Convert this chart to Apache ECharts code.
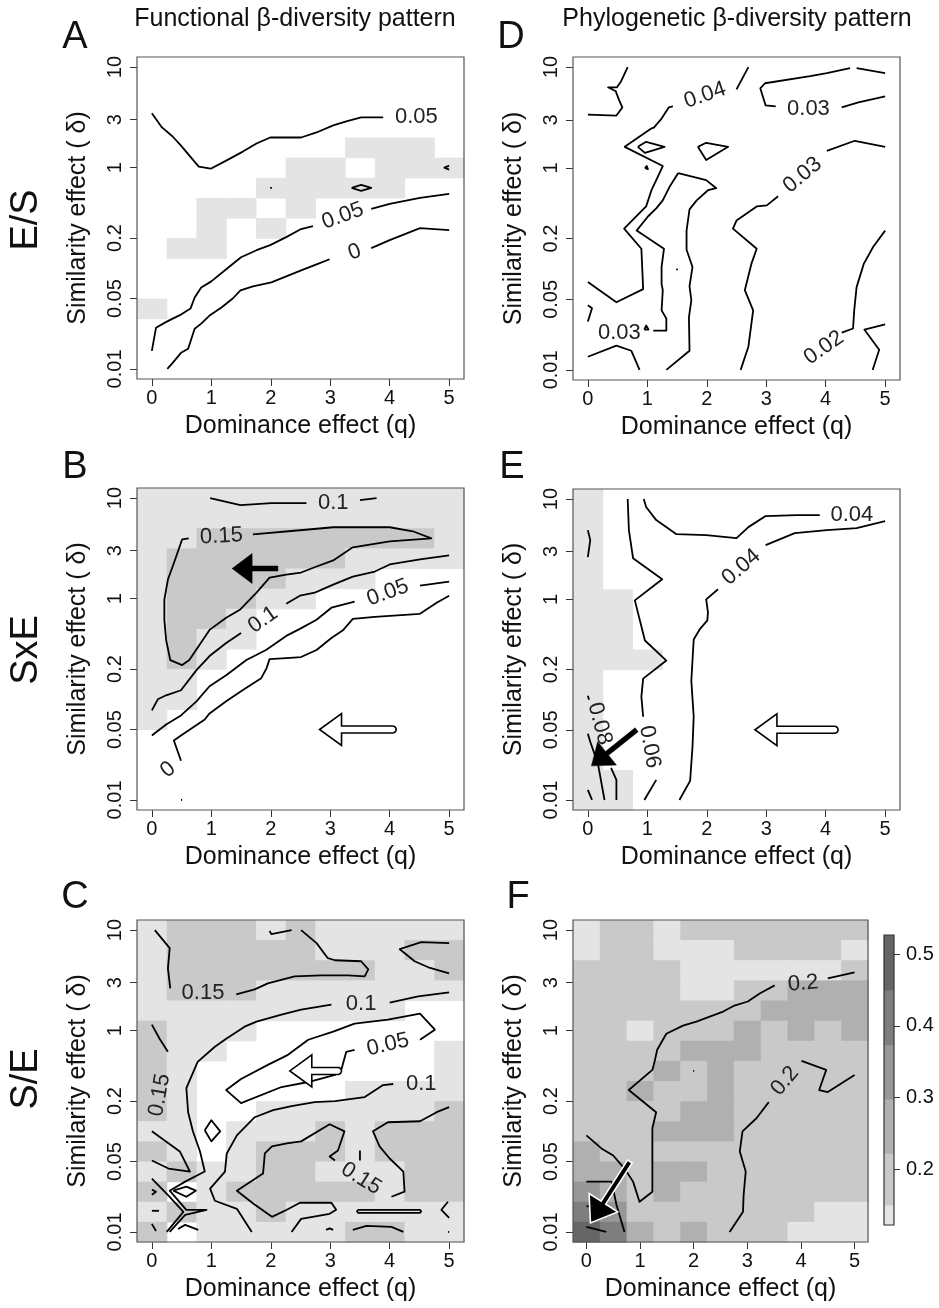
<!DOCTYPE html>
<html><head><meta charset="utf-8">
<script src="https://cdn.jsdelivr.net/npm/echarts@6/dist/echarts.min.js"></script>
<style>html,body{margin:0;padding:0;background:#fff}#c{width:939px;height:1308px}</style>
</head><body><div id="c"></div>
<script>
// ---------- axis ticks ----------
const qTicks = [0, 1, 2, 3, 4, 5];
const deltaTicks = [0.01, 0.05, 0.2, 1, 3, 10];
const deltaTickLabels = ['0.01', '0.05', '0.2', '1', '3', '10'];
const cbTicks = [0.2, 0.3, 0.4, 0.5];
const cbTickLabels = ['0.2', '0.3', '0.4', '0.5'];
// colour bar breaks (panel F) and gray levels (level index 1..6)
const cbBreaks = [0.122, 0.15, 0.222, 0.298, 0.374, 0.45, 0.527];
const grayLevels = ['#ffffff', '#e4e4e4', '#c9c9c9', '#b0b0b0', '#979797', '#7e7e7e', '#656565'];

// ---------- cell grids: rows from log10(delta)=1 (top) to -2 (bottom), columns q=0..5 step 0.5 ----------
const cellsA = ['00000000000','00000000000','00000000000','00000000000','00000001110','00000110111','00001111100','00110100000','00101000000','01100000000','00000000000','00000000000','10000000000','00000000000','00000000000','00000000000'];
const cellsB = ['11111111111','11111111111','11222222221','12222221111','12222111000','12221100000','12210000000','12110000000','12100000000','11000000000','11000000000','10000000000','00000000000','00000000000','00000000000','00000000000'];
const cellsC = ['12221211111','12222211122','12222222112','12221111111','11111111100','21110000000','21100000001','21000000001','21000001111','21001111112','11011121222','21012221222','12112211122','20122222122','12112111111','20111112211'];
const cellsD = [];
const cellsE = ['10000000000','10000000000','10000000000','10000000000','10000000000','11000000000','11000000000','11000000000','11100000000','10000000000','10000000000','10000000000','10000000000','10000000000','11000000000','11000000000'];
const cellsF = ['12212222222','12211122221','22221111112','22221122333','22222223333','22122232323','22223332222','22232322222','22322322222','22223322222','22233322222','32222222222','33233222222','43232222222','54222222211','65323222111'];

// ---------- contour lines: [q, log10(delta)] ----------
const contoursA = [
 [[0,0.54],[0.17,0.40],[0.35,0.31],[0.49,0.22],[0.66,0.10],[0.79,0.01],[0.99,-0.01],[1.25,0.07],[1.53,0.16],[1.76,0.24],[1.99,0.30],[2.51,0.30],[2.77,0.35],[3.05,0.42],[3.27,0.46],[3.52,0.50],[3.89,0.50]],
 [[0,-1.82],[0.07,-1.59],[0.22,-1.54],[0.35,-1.50],[0.49,-1.46],[0.65,-1.40],[0.72,-1.29],[0.83,-1.19],[1.0,-1.13],[1.25,-1.01],[1.50,-0.89],[1.76,-0.82],[1.99,-0.77],[2.26,-0.69],[2.51,-0.61],[2.71,-0.58]],
 [[3.69,-0.41],[4.0,-0.36],[4.51,-0.30],[5.0,-0.26]],
 [[0.26,-2.0],[0.35,-1.94],[0.49,-1.84],[0.61,-1.80],[0.72,-1.60],[0.83,-1.55],[0.97,-1.47],[1.17,-1.39],[1.36,-1.30],[1.49,-1.22],[1.70,-1.18],[2.01,-1.14],[2.26,-1.08],[2.51,-1.02],[2.77,-0.96],[2.99,-0.91]],
 [[3.69,-0.80],[4.0,-0.72],[4.51,-0.60],[5.0,-0.62]],
 [[3.36,-0.20],[3.52,-0.17],[3.69,-0.20],[3.52,-0.23],[3.36,-0.20]],
 [[5.0,0.02],[4.92,0.0],[5.0,-0.02]],
 [[1.99,-0.2],[2.02,-0.2]]
];
const contoursB = [
 [[0.98,1.0],[1.49,0.93],[2.01,0.95],[2.60,0.95]],
 [[3.50,0.98],[3.78,1.0]],
 [[0.62,0.60],[0.51,0.59],[0.38,0.37],[0.27,0.19],[0.21,-0.01],[0.21,-0.21],[0.24,-0.41],[0.31,-0.61],[0.51,-0.66],[0.63,-0.61],[0.97,-0.31],[1.25,-0.19],[1.48,-0.11],[1.76,0.06],[1.98,0.21],[2.26,0.24],[2.51,0.26],[2.77,0.32],[3.05,0.38],[3.38,0.51],[4.0,0.57],[4.70,0.60],[4.39,0.67],[4.0,0.71],[3.05,0.71],[2.49,0.68],[1.70,0.64]],
 [[0,-1.11],[0.10,-1.0],[0.24,-0.96],[0.49,-0.91],[0.75,-0.71],[0.97,-0.57],[1.25,-0.44],[1.50,-0.34]],
 [[2.26,-0.05],[2.49,0.03],[2.74,0.06],[3.05,0.14],[3.38,0.22],[3.75,0.27],[4.0,0.34],[4.51,0.39],[5.0,0.43]],
 [[0,-1.36],[0.24,-1.25],[0.49,-1.16],[0.75,-1.02],[0.97,-0.87],[1.25,-0.76],[1.59,-0.61],[1.92,-0.51],[2.26,-0.37],[2.49,-0.30],[2.77,-0.21],[3.02,-0.09],[3.41,-0.03]],
 [[4.51,0.13],[5.0,0.17]],
 [[0.49,-1.61],[0.37,-1.41],[0.49,-1.36],[0.89,-1.20],[0.97,-1.14],[1.25,-1.02],[1.50,-0.92],[1.76,-0.82],[1.84,-0.79],[1.93,-0.69],[1.98,-0.60],[2.26,-0.59],[2.51,-0.58],[2.77,-0.51],[3.02,-0.39],[3.22,-0.31],[3.38,-0.20],[3.75,-0.18],[4.51,-0.15],[4.79,-0.04],[5.0,0.03]],
 [[0.49,-2.0],[0.51,-2.0]]
];
const contoursC = [
 [[0.31,0.42],[0.27,0.62],[0.30,0.82],[0.05,1.0]],
 [[1.42,0.36],[1.73,0.41],[1.95,0.47],[2.40,0.54],[2.85,0.55],[3.30,0.55],[3.58,0.54],[3.64,0.61],[3.52,0.69],[3.08,0.70],[2.96,0.72],[2.77,0.87],[2.51,1.0]],
 [[1.98,0.99],[2.01,0.96],[2.35,1.0]],
 [[5.0,0.87],[4.53,0.88],[4.17,0.81],[4.42,0.69],[4.65,0.63],[5.0,0.57]],
 [[5.0,0.38],[4.48,0.34],[4.0,0.28]],
 [[3.02,0.26],[2.51,0.21],[2.18,0.16],[1.76,0.09],[1.56,0.04],[1.25,-0.08],[1.06,-0.16],[0.77,-0.31],[0.58,-0.57],[0.61,-0.81],[0.69,-1.0],[0.81,-1.20],[0.89,-1.40],[0.56,-1.50],[0.30,-1.59],[0.58,-1.78],[0.92,-1.78],[0.56,-1.83],[0.30,-2.0]],
 [[4.06,-0.53],[3.89,-0.54],[3.58,-0.66],[3.08,-0.70],[2.74,-0.71],[2.35,-0.75],[2.04,-0.79],[1.73,-0.86],[1.43,-1.04],[1.26,-1.22],[1.23,-1.40],[0.98,-1.57],[1.06,-1.69],[1.43,-1.77],[1.68,-2.0]],
 [[3.41,-0.19],[3.27,-0.21],[3.19,-0.38],[3.08,-0.44],[2.63,-0.51],[2.18,-0.56],[1.50,-0.72],[1.25,-0.59],[1.50,-0.48],[1.95,-0.34],[2.29,-0.24],[2.63,-0.09],[3.05,-0.01],[3.41,0.07],[3.97,0.11],[4.51,0.17],[4.76,0.01],[4.51,-0.09]],
 [[0,0.06],[0.13,-0.08],[0.27,-0.21]],
 [[0,-1.0],[0.47,-1.20],[0.64,-1.40],[0.28,-1.37],[0,-1.29]],
 [[3.08,-1.29],[2.99,-1.25],[3.13,-1.19],[3.24,-1.0],[2.99,-0.93],[2.51,-1.10],[2.27,-1.12],[2.02,-1.15],[1.90,-1.22],[1.87,-1.42],[1.43,-1.59],[1.71,-1.72],[2.02,-1.85],[2.27,-1.78],[2.49,-1.71],[3.02,-1.71],[3.10,-1.78],[2.99,-1.82],[2.51,-1.87],[2.35,-2.0]],
 [[5.0,-0.76],[4.79,-0.81],[4.51,-0.90],[3.97,-0.91],[3.72,-1.0],[3.83,-1.15],[4.0,-1.27],[4.23,-1.40],[4.25,-1.60],[4.03,-1.65]],
 [[3.50,-1.19],[3.50,-1.29]],
 [[3.47,-1.78],[4.51,-1.78],[4.53,-1.795],[4.51,-1.81],[3.47,-1.81],[3.45,-1.795],[3.47,-1.78]],
 [[4.98,-1.70],[4.87,-1.78],[5.0,-1.86]],
 [[3.38,-1.98],[3.61,-1.94],[4.03,-1.95],[4.23,-2.0]],
 [[2.93,-1.98],[2.99,-1.965],[3.05,-1.98]],
 [[0.89,-0.99],[1.0,-0.89],[1.15,-1.0],[1.0,-1.10],[0.89,-0.99]],
 [[0.36,-1.59],[0.58,-1.55],[0.74,-1.59],[0.58,-1.65],[0.36,-1.59]],
 [[0,-1.47],[0.28,-1.64],[0.53,-1.80],[0.25,-2.0]],
 [[0.44,-1.97],[0.56,-1.93],[0.78,-1.98]],
 [[0,-1.58],[0.07,-1.60],[0,-1.63]],
 [[0,-1.79],[0.12,-1.79]],
 [[0,-1.92],[0.07,-1.99]],
 [[4.98,-2.0],[5.0,-2.0]]
];
const contoursD = [
 [[0.67,1.0],[0.56,0.86],[0.49,0.80],[0.34,0.80],[0.47,0.76],[0.52,0.68],[0.58,0.60],[0.48,0.52],[0,0.53]],
 [[2.70,1.0],[2.50,0.78]],
 [[1.43,0.61],[1.36,0.60],[1.24,0.49],[1.11,0.40],[1.06,0.39],[0.62,0.21],[1.26,0.02],[1.15,-0.12],[1.07,-0.22],[0.98,-0.38],[0.61,-0.60],[0.90,-0.80],[0.93,-1.20],[0.48,-1.33],[0,-1.13]],
 [[1.52,-0.05],[1.38,-0.18],[1.26,-0.32],[1.15,-0.40],[1.01,-0.48],[0.82,-0.62],[1.28,-0.80],[1.24,-0.98],[1.24,-1.15],[1.26,-1.21],[1.24,-1.41],[1.32,-1.49],[1.32,-1.61],[1.10,-1.61]],
 [[1.52,-0.05],[1.99,-0.12],[2.16,-0.20],[2.02,-0.22],[1.83,-0.32],[1.71,-0.41],[1.66,-0.62],[1.66,-0.81],[1.76,-0.98],[1.71,-1.17],[1.74,-1.31],[1.70,-1.48],[1.71,-1.81],[1.32,-2.0]],
 [[0.95,-1.60],[0.98,-1.56],[1.02,-1.60],[0.95,-1.60]],
 [[0,-1.87],[0.48,-1.76],[0.73,-1.81],[0.87,-2.0]],
 [[0,-1.36],[0.07,-1.39],[0,-1.52]],
 [[0.84,0.21],[0.98,0.26],[1.29,0.21],[0.96,0.15],[0.84,0.21]],
 [[0.96,0.0],[0.99,0.02],[1.01,-0.01],[0.96,0.0]],
 [[1.85,0.21],[1.99,0.25],[2.36,0.21],[1.99,0.08],[1.85,0.21]],
 [[1.49,-1.0],[1.51,-1.01]],
 [[5.0,0.21],[4.49,0.27],[4.02,0.17]],
 [[3.20,-0.28],[3.01,-0.37],[2.84,-0.38],[2.50,-0.52],[2.44,-0.60],[2.84,-0.80],[2.75,-0.95],[2.64,-1.21],[2.78,-1.41],[2.70,-1.77],[2.57,-2.0]],
 [[5.0,0.94],[4.52,0.99]],
 [[4.41,0.99],[4.02,0.94],[3.74,0.91],[2.98,0.84],[2.90,0.79],[2.99,0.62],[3.16,0.61]],
 [[4.27,0.60],[4.55,0.65],[5.0,0.71]],
 [[5.0,-0.62],[4.80,-0.78],[4.64,-0.95],[4.52,-1.18],[4.48,-1.41],[4.46,-1.59],[4.27,-1.63]],
 [[5.0,-1.55],[4.65,-1.60],[4.90,-1.80],[4.79,-2.0]]
];
const contoursE = [
 [[0,0.69],[0.04,0.59],[0,0.42]],
 [[0.67,1.0],[0.69,0.69],[0.76,0.41],[1.25,0.20],[0.79,-0.01],[0.96,-0.41],[1.32,-0.61],[0.93,-0.79],[0.90,-0.97],[0.93,-1.17]],
 [[1.15,-1.80],[0.95,-2.0]],
 [[0.94,1.0],[0.98,0.92],[1.15,0.79],[1.49,0.65],[1.99,0.64],[2.50,0.61],[2.70,0.72],[2.99,0.83],[3.51,0.84],[3.90,0.84]],
 [[5.0,0.78],[4.52,0.71],[4.02,0.69],[3.48,0.66],[2.99,0.54]],
 [[2.19,0.10],[1.99,0.0],[2.02,-0.13],[2.01,-0.21],[1.88,-0.30],[1.78,-0.40],[1.76,-0.61],[1.74,-0.81],[1.78,-1.17],[1.76,-1.47],[1.72,-1.81],[1.54,-2.0]],
 [[0,-1.34],[0.04,-1.42],[0.17,-1.64],[0.28,-2.0]],
 [[0,-1.90],[0.07,-2.0]],
 [[0.39,-1.68],[0.48,-1.80],[0.48,-2.0]],
 [[0,-0.96],[0.02,-1.0]]
];
const contoursF = [
 [[5.0,0.58],[4.50,0.52]],
 [[3.51,0.45],[3.23,0.37],[3.01,0.29],[2.76,0.25],[2.55,0.19],[2.30,0.14],[2.05,0.09],[1.80,0.05],[1.49,-0.03],[1.32,-0.19],[1.27,-0.31],[1.23,-0.39],[0.79,-0.59],[1.30,-0.81],[1.23,-0.97],[1.23,-1.60],[0.99,-1.70],[0.87,-1.50],[0.71,-1.37],[0.50,-1.24],[0.28,-1.17],[0,-1.04]],
 [[2.67,-2.0],[2.92,-1.80],[2.93,-1.64],[2.97,-1.40],[2.86,-1.20],[2.91,-1.0],[3.17,-0.87],[3.40,-0.71]],
 [[4.01,-0.30],[4.47,-0.39],[4.34,-0.59],[4.50,-0.61],[5.0,-0.44]],
 [[0,-1.50],[0.47,-1.50],[0.56,-1.73],[0.71,-2.0]],
 [[0,-1.95],[0.37,-2.0]],
 [[0,-1.745],[0.06,-1.745]],
 [[1.99,-0.40],[2.01,-0.40]]
];

// ---------- contour labels: [q, log10(delta), text, rotation deg] ----------
const labelsA = [[4.45,0.50,'0.05',0],[3.21,-0.48,'0.05',20],[3.41,-0.84,'0',20]];
const labelsB = [[3.05,0.95,'0.1',0],[1.17,0.62,'0.15',3],[1.87,-0.21,'0.1',35],[3.97,0.06,'0.05',20],[0.27,-1.70,'0',40]];
const labelsC = [[0.86,0.38,'0.15',0],[3.52,0.27,'0.1',0],[3.97,-0.14,'0.05',13],[4.53,-0.53,'0.1',0],[0.13,-0.64,'0.15',80],[3.52,-1.47,'0.15',-32]];
const labelsD = [[1.97,0.72,'0.04',19],[0.53,-1.63,'0.03',0],[3.61,-0.07,'0.03',40],[3.71,0.59,'0.03',0],[3.97,-1.78,'0.02',35]];
const labelsE = [[4.44,0.84,'0.04',0],[2.58,0.32,'0.04',41],[1.04,-1.47,'0.06',-80],[0.20,-1.24,'0.08',-75]];
const labelsF = [[4.04,0.47,'0.2',5],[3.70,-0.50,'0.2',50]];

// ---------- arrows: [tailQ, tailLog, tipQ, tipLog, kind] ----------
const arrowsA = [];
const arrowsB = [[2.12,0.30,1.35,0.30,'solid'],[4.05,-1.30,2.82,-1.30,'hollow']];
const arrowsC = [[3.13,-0.40,2.32,-0.40,'hollow']];
const arrowsD = [];
const arrowsE = [[0.82,-1.30,0.06,-1.66,'solid'],[4.15,-1.30,2.81,-1.30,'hollow']];
const arrowsF = [[0.81,-1.30,0.075,-1.91,'outlined']];

// ---------- layout ----------
const FF = "'Liberation Sans', Arial, Helvetica, sans-serif";
const panels = [
 {grid:{left:137,top:57,width:327,height:322}, cells:cellsA, segs:contoursA, labels:labelsA, arrows:arrowsA},
 {grid:{left:137,top:488,width:327,height:322}, cells:cellsB, segs:contoursB, labels:labelsB, arrows:arrowsB},
 {grid:{left:137,top:920,width:327,height:322}, cells:cellsC, segs:contoursC, labels:labelsC, arrows:arrowsC},
 {grid:{left:573,top:57,width:327,height:323}, cells:cellsD, segs:contoursD, labels:labelsD, arrows:arrowsD},
 {grid:{left:573,top:489,width:327,height:321}, cells:cellsE, segs:contoursE, labels:labelsE, arrows:arrowsE},
 {grid:{left:573,top:920,width:295,height:322}, cells:cellsF, segs:contoursF, labels:labelsF, arrows:arrowsF}
];
const arrowStyles = {
 solid:{w:5,L:20,H:15,fill:'#000',stroke:'#000',lw:0.5,round:false},
 hollow:{w:7,L:22,H:16,fill:'#fff',stroke:'#000',lw:1.6,round:true},
 outlined:{w:5.5,L:24,H:17,fill:'#000',stroke:'#fff',lw:1.6,round:false}
};
const logTicks = deltaTicks.map(v => Math.log10(v));

function cellData(rows){
  const out = [];
  rows.forEach((r,i) => { for (let j=0;j<r.length;j++){ const lv = +r[j]; if (lv>0) out.push([j*0.5, 1-0.2*i, lv]); } });
  return out;
}
function arrowPts(T,P,s){
  const dx=P[0]-T[0], dy=P[1]-T[1], len=Math.hypot(dx,dy);
  const ux=dx/len, uy=dy/len, nx=-uy, ny=ux;
  const bx=P[0]-ux*s.L, by=P[1]-uy*s.L;
  const pts = [[bx+nx*s.w/2,by+ny*s.w/2],[bx+nx*s.H,by+ny*s.H],[P[0],P[1]],
          [bx-nx*s.H,by-ny*s.H],[bx-nx*s.w/2,by-ny*s.w/2]];
  if (s.round) {
    // semicircular tail end, from the -n side round the back to the +n side
    for (let a=0; a<=10; a++){
      const t = -Math.PI/2 + Math.PI*a/10;
      const ox = -ux*Math.cos(t) + nx*Math.sin(t), oy = -uy*Math.cos(t) + ny*Math.sin(t);
      pts.push([T[0] + ox*s.w/2, T[1] + oy*s.w/2]);
    }
  } else {
    pts.push([T[0]-nx*s.w/2,T[1]-ny*s.w/2],[T[0]+nx*s.w/2,T[1]+ny*s.w/2]);
  }
  return pts;
}

const option = {animation:false, backgroundColor:'#fff', grid:[], xAxis:[], yAxis:[], series:[], graphic:[]};
const txt = {color:'#111', fontFamily:FF};

panels.forEach((p,k) => {
  option.grid.push(Object.assign({show:false}, p.grid));
  option.xAxis.push({type:'value', gridIndex:k, min:-0.25, max:5.25, position:'bottom',
    splitLine:{show:false}, axisLine:{show:false, onZero:false},
    axisTick:{show:true, length:7, customValues:qTicks, lineStyle:{color:'#333', width:1}},
    axisLabel:Object.assign({customValues:qTicks, fontSize:20, margin:9}, txt),
    name:'Dominance effect (q)', nameLocation:'middle', nameGap:35,
    nameTextStyle:Object.assign({fontSize:25}, txt)});
  option.yAxis.push({type:'value', gridIndex:k, min:-2.1, max:1.1, position:'left',
    splitLine:{show:false}, axisLine:{show:false, onZero:false},
    axisTick:{show:true, length:7, customValues:logTicks, lineStyle:{color:'#333', width:1}},
    axisLabel:Object.assign({customValues:logTicks, rotate:90, fontSize:20, margin:12,
      formatter:v => { const i = logTicks.findIndex(t => Math.abs(t-v) < 1e-6); return i>=0 ? deltaTickLabels[i] : ''; }}, txt),
    name:'Similarity effect ( δ)', nameLocation:'middle', nameGap:46,
    nameTextStyle:Object.assign({fontSize:25}, txt)});

  option.series.push({type:'custom', xAxisIndex:k, yAxisIndex:k, z:1, silent:true,
    data:cellData(p.cells),
    renderItem:(params, api) => {
      const q=api.value(0), l=api.value(1), lv=api.value(2);
      const a=api.coord([q-0.25, l+0.1]), b=api.coord([q+0.25, l-0.1]);
      return {type:'rect', shape:{x:a[0], y:a[1], width:b[0]-a[0]+0.6, height:b[1]-a[1]+0.6}, style:{fill:grayLevels[lv]}};
    }});
  option.series.push({type:'custom', xAxisIndex:k, yAxisIndex:k, z:3, silent:true,
    data:p.segs.map((s,i) => [s[0][0], s[0][1], i]),
    renderItem:(params, api) => {
      const seg = p.segs[api.value(2)];
      return {type:'polyline', shape:{points:seg.map(pt => api.coord(pt))},
        style:{stroke:'#000', lineWidth:1.8, fill:null, lineJoin:'round'}};
    }});
  option.series.push({type:'custom', xAxisIndex:k, yAxisIndex:k, z:4, silent:true,
    data:p.labels.map((L,i) => [L[0], L[1], i]),
    renderItem:(params, api) => {
      const L = p.labels[api.value(2)];
      const c = api.coord([L[0], L[1]]);
      return {type:'text', x:c[0], y:c[1], rotation:L[3]*Math.PI/180,
        style:{text:L[2], fill:'#222', fontSize:22, fontFamily:FF, align:'center', verticalAlign:'middle'}};
    }});
  option.series.push({type:'custom', xAxisIndex:k, yAxisIndex:k, z:5, silent:true,
    data:p.arrows.map((A,i) => [A[2], A[3], i]),
    renderItem:(params, api) => {
      const A = p.arrows[api.value(2)];
      const s = arrowStyles[A[4]];
      const T = api.coord([A[0], A[1]]), P = api.coord([A[2], A[3]]);
      return {type:'polygon', shape:{points:arrowPts(T,P,s)}, style:{fill:s.fill, stroke:s.stroke, lineWidth:s.lw, lineJoin:'miter'}};
    }});
  option.series.push({type:'custom', xAxisIndex:k, yAxisIndex:k, z:6, silent:true,
    data:[[0,0]],
    renderItem:(params, api) => {
      const cs = params.coordSys;
      return {type:'rect', shape:{x:cs.x, y:cs.y, width:cs.width, height:cs.height}, style:{fill:null, stroke:'#555', lineWidth:1.2}};
    }});
});

// colour bar for panel F
const cbIndex = panels.length;
option.grid.push({show:false, left:884, top:935, width:10, height:290});
option.xAxis.push({type:'value', gridIndex:cbIndex, min:0, max:1, show:false});
option.yAxis.push({type:'value', gridIndex:cbIndex, position:'right', min:cbBreaks[0], max:cbBreaks[cbBreaks.length-1],
  splitLine:{show:false}, axisLine:{show:false, onZero:false},
  axisTick:{show:true, length:6, customValues:cbTicks, lineStyle:{color:'#333'}},
  axisLabel:Object.assign({customValues:cbTicks, fontSize:20, margin:12,
    formatter:v => { const i = cbTicks.findIndex(t => Math.abs(t-v) < 1e-6); return i>=0 ? cbTickLabels[i] : ''; }}, txt)});
option.series.push({type:'custom', xAxisIndex:cbIndex, yAxisIndex:cbIndex, z:2, silent:true,
  data:cbBreaks.slice(0,-1).map((b,i) => [0.5, b, i]),
  renderItem:(params, api) => {
    const i = api.value(2);
    const a = api.coord([0, cbBreaks[i+1]]), b = api.coord([1, cbBreaks[i]]);
    return {type:'rect', shape:{x:a[0], y:a[1], width:b[0]-a[0], height:b[1]-a[1]+0.5}, style:{fill:grayLevels[i+1]}};
  }});
option.series.push({type:'custom', xAxisIndex:cbIndex, yAxisIndex:cbIndex, z:6, silent:true, data:[[0.5,0.3]],
  renderItem:(params, api) => { const cs = params.coordSys;
    return {type:'rect', shape:{x:cs.x, y:cs.y, width:cs.width, height:cs.height}, style:{fill:null, stroke:'#333', lineWidth:1.2}}; }});

// titles, panel letters, row labels
function gtext(t, x, y, size, rot){
  return {type:'text', x:x, y:y, rotation:(rot||0)*Math.PI/180, silent:true,
    style:{text:t, fontSize:size, fontFamily:FF, fill:'#111', align:'center', verticalAlign:'middle', textAlign:'center', textVerticalAlign:'middle'}};
}
option.graphic = [
  gtext('Functional β-diversity pattern', 295, 19, 25),
  gtext('Phylogenetic β-diversity pattern', 737, 19, 25),
  gtext('A', 75, 38, 38), gtext('B', 75, 468, 38), gtext('C', 75, 898, 38),
  gtext('D', 511, 38, 38), gtext('E', 512, 468, 38), gtext('F', 518, 898, 38),
  gtext('E/S', 27, 220, 38, 90), gtext('SxE', 27, 650, 38, 90), gtext('S/E', 27, 1079, 38, 90)
];

const chart = echarts.init(document.getElementById('c'), null, {renderer:'canvas'});
chart.setOption(option);
</script>
</body></html>
